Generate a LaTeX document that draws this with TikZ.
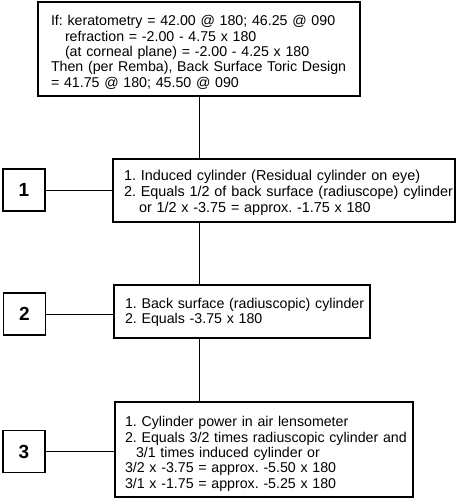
\documentclass[tikz,border=0pt]{standalone}
\usepackage{fontspec}
\setmainfont{Liberation Sans}
\frenchspacing
\newcommand{\oneline}[1]{\mbox{#1}}
\begin{document}
\begin{tikzpicture}[x=1pt,y=-1pt,
  infobox/.style={draw,line width=1.1pt,align=left,inner ysep=0pt,anchor=center,
    font=\fontsize{14.2}{15.3}\selectfont},
  numbox/.style={draw,line width=1.6pt,minimum width=42pt,minimum height=42pt,inner sep=0pt,
    font=\fontsize{19}{20}\selectfont\bfseries},
  link/.style={line width=0.9pt}]
\useasboundingbox (0,0) rectangle (457,500);
\node[infobox,minimum width=322pt,minimum height=94pt,inner xsep=13pt,text width=296pt] (top) at (199,49)
 {\oneline{\rule{0pt}{17pt}If: keratometry = 42.00 @ 180; 46.25 @ 090}\\
 \oneline{\hspace*{14pt}refraction = -2.00 - 4.75 x 180}\\
 \oneline{\hspace*{14pt}(at corneal plane) = -2.00 - 4.25 x 180}\\
 \oneline{Then (per Remba), Back Surface Toric Design}\\
 \oneline{= 41.75 @ 180; 45.50 @ 090}};
\node[infobox,minimum width=342pt,minimum height=63pt,inner xsep=11pt,text width=320pt,
  font=\fontsize{14.4}{16}\selectfont] (b1) at (284,190.5)
 {\oneline{\rule{0pt}{15pt}1. Induced cylinder (Residual cylinder on eye)}\\
 \oneline{2. Equals 1/2 of back surface (radiuscope) cylinder}\\
 \oneline{\hspace*{15pt}or 1/2 x -3.75 = approx. -1.75 x 180}};
\node[infobox,minimum width=256pt,minimum height=53pt,inner xsep=11pt,text width=234pt] (b2) at (242,311.5)
 {\oneline{\rule{0pt}{12pt}1. Back surface (radiuscopic) cylinder}\\
 \oneline{2. Equals -3.75 x 180}};
\node[infobox,minimum width=298pt,minimum height=95pt,inner xsep=10pt,text width=278pt] (b3) at (264,449.5)
 {\oneline{\rule{0pt}{19pt}1. Cylinder power in air lensometer}\\
 \oneline{2. Equals 3/2 times radiuscopic cylinder and}\\
 \oneline{\hspace*{11pt}3/1 times induced cylinder or}\\
 \oneline{3/2 x -3.75 = approx. -5.50 x 180}\\
 \oneline{3/1 x -1.75 = approx. -5.25 x 180}};
\node[numbox] (s1) at (24,190) {1};
\node[numbox] (s2) at (24.5,314) {2};
\node[numbox] (s3) at (24,451.5) {3};
\draw[link] (top.south) -- (top.south |- b1.north);
\draw[link] (b1.south -| top.south) -- (top.south |- b2.north);
\draw[link] (b2.south -| top.south) -- (top.south |- b3.north);
\draw[link] (s1.east) -- (s1.east -| b1.west);
\draw[link] (s2.east) -- (s2.east -| b2.west);
\draw[link] (s3.east) -- (s3.east -| b3.west);
\end{tikzpicture}
\end{document}
